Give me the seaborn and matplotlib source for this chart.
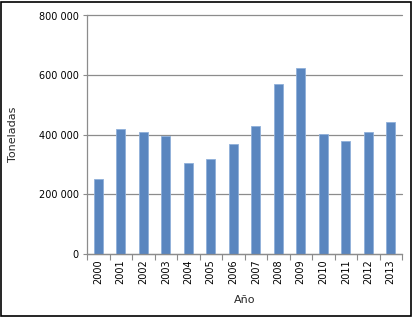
import matplotlib
matplotlib.use("Agg")
import matplotlib.pyplot as plt
import seaborn as sns
import pandas as pd
from matplotlib.patches import Rectangle
from matplotlib.ticker import FuncFormatter, FixedLocator

years = ["2000", "2001", "2002", "2003", "2004", "2005", "2006",
         "2007", "2008", "2009", "2010", "2011", "2012", "2013"]
toneladas = [250000, 418000, 408000, 395000, 304000, 318000, 370000,
             428000, 571000, 623000, 404000, 380000, 408000, 442000]
yticks = [0, 200000, 400000, 600000, 800000]

df = pd.DataFrame({"Año": years, "Toneladas": toneladas})

sns.set_theme(style="white")
plt.rcParams['font.family'] = ['DejaVu Sans']

fig = plt.figure(figsize=(4.12, 3.17), dpi=100)
ax = fig.add_axes([87/412, 1 - 254/317, (402-87)/412, (254-15.5)/317])

sns.barplot(data=df, x="Año", y="Toneladas", ax=ax, color="#5A86BF",
            width=0.4, edgecolor="#8FB0DA", linewidth=0.6, saturation=1)

ax.set_ylim(0, 800000)
ax.set_xlim(-0.5, len(years) - 0.5)
ax.set_yticks(yticks)
ax.yaxis.set_major_formatter(FuncFormatter(lambda v, p: f"{int(v):,}".replace(",", " ")))
ax.yaxis.grid(True, color="#8C8C8C", linewidth=0.9)
for gl in ax.yaxis.get_gridlines():
    gl.set_clip_on(False)
ax.set_axisbelow(True)

ax.xaxis.set_major_locator(FixedLocator(range(len(years))))
ax.set_xticklabels(years, rotation=90, fontsize=7, color="black")
ax.xaxis.set_minor_locator(FixedLocator([i - 0.5 for i in range(len(years) + 1)]))
ax.tick_params(axis="x", which="major", length=0, pad=4)
ax.tick_params(axis="x", which="minor", length=4, width=0.8, color="#8C8C8C", direction="out")
ax.tick_params(axis="y", which="major", length=3, width=0.8, color="#8C8C8C",
               direction="out", labelsize=7, labelcolor="black", pad=3)
ax.yaxis.set_ticks_position("left")
ax.xaxis.set_ticks_position("bottom")

for s in ["top", "right"]:
    ax.spines[s].set_visible(False)
for s in ["left", "bottom"]:
    ax.spines[s].set_color("#8C8C8C")
    ax.spines[s].set_linewidth(0.9)

ax.set_xlabel("Año", fontsize=8, labelpad=8)
ax.set_ylabel("Toneladas", fontsize=8)
ax.yaxis.set_label_coords((18 - 87) / 315, 0.5)

fig.patches.append(Rectangle((1/412, 1/317), 1 - 2.5/412, 1 - 2.5/317,
                             transform=fig.transFigure, fill=False,
                             edgecolor="black", linewidth=1.2))

fig.savefig("out.png", dpi=100)
